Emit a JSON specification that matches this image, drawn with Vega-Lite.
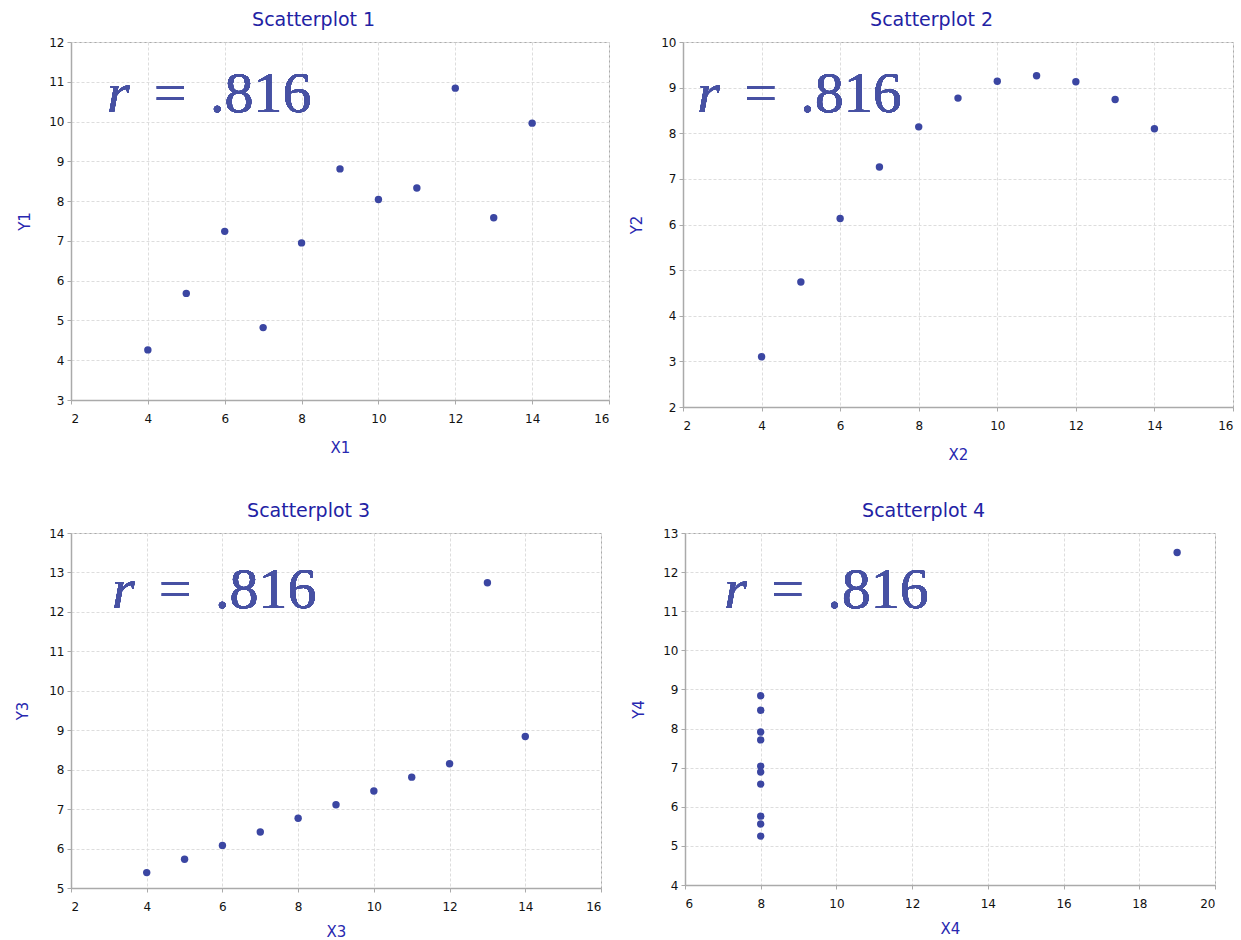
{
  "$schema": "https://vega.github.io/schema/vega-lite/v6.json",
  "background": "white",
  "padding": {"left": 15, "top": 10, "right": 5, "bottom": 5},
  "datasets": {
    "anscombe": [
      {"set": "I", "x": 10, "y": 8.04}, {"set": "I", "x": 8, "y": 6.95}, {"set": "I", "x": 13, "y": 7.58}, {"set": "I", "x": 9, "y": 8.81},
      {"set": "I", "x": 11, "y": 8.33}, {"set": "I", "x": 14, "y": 9.96}, {"set": "I", "x": 6, "y": 7.24}, {"set": "I", "x": 4, "y": 4.26},
      {"set": "I", "x": 12, "y": 10.84}, {"set": "I", "x": 7, "y": 4.82}, {"set": "I", "x": 5, "y": 5.68},
      {"set": "II", "x": 10, "y": 9.14}, {"set": "II", "x": 8, "y": 8.14}, {"set": "II", "x": 13, "y": 8.74}, {"set": "II", "x": 9, "y": 8.77},
      {"set": "II", "x": 11, "y": 9.26}, {"set": "II", "x": 14, "y": 8.10}, {"set": "II", "x": 6, "y": 6.13}, {"set": "II", "x": 4, "y": 3.10},
      {"set": "II", "x": 12, "y": 9.13}, {"set": "II", "x": 7, "y": 7.26}, {"set": "II", "x": 5, "y": 4.74},
      {"set": "III", "x": 10, "y": 7.46}, {"set": "III", "x": 8, "y": 6.77}, {"set": "III", "x": 13, "y": 12.74}, {"set": "III", "x": 9, "y": 7.11},
      {"set": "III", "x": 11, "y": 7.81}, {"set": "III", "x": 14, "y": 8.84}, {"set": "III", "x": 6, "y": 6.08}, {"set": "III", "x": 4, "y": 5.39},
      {"set": "III", "x": 12, "y": 8.15}, {"set": "III", "x": 7, "y": 6.42}, {"set": "III", "x": 5, "y": 5.73},
      {"set": "IV", "x": 8, "y": 6.58}, {"set": "IV", "x": 8, "y": 5.76}, {"set": "IV", "x": 8, "y": 7.71}, {"set": "IV", "x": 8, "y": 8.84},
      {"set": "IV", "x": 8, "y": 8.47}, {"set": "IV", "x": 8, "y": 7.04}, {"set": "IV", "x": 8, "y": 5.25}, {"set": "IV", "x": 19, "y": 12.50},
      {"set": "IV", "x": 8, "y": 5.56}, {"set": "IV", "x": 8, "y": 7.91}, {"set": "IV", "x": 8, "y": 6.89}
    ]
  },
  "config": {
    "view": {"stroke": "#aaaaaa", "strokeWidth": 1},
    "title": {"font": "DejaVu Sans", "fontSize": 19, "fontWeight": "normal", "color": "#2222a4", "offset": 6, "anchor": "middle", "frame": "bounds"},
    "axis": {
      "labelFont": "DejaVu Sans", "labelFontSize": 12, "labelColor": "#111111", "labelOverlap": false, "tickCount": 30,
      "titleFont": "DejaVu Sans", "titleFontSize": 15, "titleFontWeight": "normal", "titleColor": "#2828b0",
      "domainColor": "#aaaaaa", "domainWidth": 1.5, "tickColor": "#aaaaaa", "tickSize": 4,
      "gridColor": "#dddddd", "gridDash": [3, 2], "labelPadding": 3
    },
    "axisX": {"titlePadding": 16, "labelPadding": 9},
    "axisY": {"titlePadding": 16},
    "point": {"filled": true, "shape": "circle", "size": 55, "color": "#3b46a2", "opacity": 1},
    "text": {"font": "Liberation Serif", "fontSize": 58, "color": "#4751a3", "align": "left", "baseline": "alphabetic"}
  },
  "spacing": 38,
  "vconcat": [
    {
      "spacing": 19,
      "hconcat": [
        {
          "title": "Scatterplot 1",
          "width": 538, "height": 358,
          "data": {"name": "anscombe"},
          "transform": [{"filter": "datum.set === 'I'"}],
          "layer": [
            {
              "mark": "point",
              "encoding": {
                "x": {"field": "x", "type": "quantitative", "scale": {"domain": [2, 16], "nice": false, "zero": false}, "axis": {"title": "X1", "format": "d", "tickCount": 30, "values": [2, 4, 6, 8, 10, 12, 14, 16]}},
                "y": {"field": "y", "type": "quantitative", "scale": {"domain": [3, 12], "nice": false, "zero": false}, "axis": {"title": "Y1", "format": "d", "tickCount": 30, "values": [3, 4, 5, 6, 7, 8, 9, 10, 11, 12]}}
              }
            },
            {"mark": {"type": "text", "text": "r", "fontStyle": "italic"}, "encoding": {"x": {"datum": 2.94, "type": "quantitative"}, "y": {"datum": 10.25, "type": "quantitative"}}},
            {"mark": {"type": "text", "text": "=", "dx": 47}, "encoding": {"x": {"datum": 2.94, "type": "quantitative"}, "y": {"datum": 10.25, "type": "quantitative"}}},
            {"mark": {"type": "text", "text": ".816", "dx": 103}, "encoding": {"x": {"datum": 2.94, "type": "quantitative"}, "y": {"datum": 10.25, "type": "quantitative"}}}
          ]
        },
        {
          "title": "Scatterplot 2",
          "width": 550, "height": 365,
          "data": {"name": "anscombe"},
          "transform": [{"filter": "datum.set === 'II'"}],
          "layer": [
            {
              "mark": "point",
              "encoding": {
                "x": {"field": "x", "type": "quantitative", "scale": {"domain": [2, 16], "nice": false, "zero": false}, "axis": {"title": "X2", "format": "d", "tickCount": 30, "values": [2, 4, 6, 8, 10, 12, 14, 16]}},
                "y": {"field": "y", "type": "quantitative", "scale": {"domain": [2, 10], "nice": false, "zero": false}, "axis": {"title": "Y2", "format": "d", "tickCount": 30, "values": [2, 3, 4, 5, 6, 7, 8, 9, 10]}}
              }
            },
            {"mark": {"type": "text", "text": "r", "fontStyle": "italic"}, "encoding": {"x": {"datum": 2.36, "type": "quantitative"}, "y": {"datum": 8.47, "type": "quantitative"}}},
            {"mark": {"type": "text", "text": "=", "dx": 47}, "encoding": {"x": {"datum": 2.36, "type": "quantitative"}, "y": {"datum": 8.47, "type": "quantitative"}}},
            {"mark": {"type": "text", "text": ".816", "dx": 103}, "encoding": {"x": {"datum": 2.36, "type": "quantitative"}, "y": {"datum": 8.47, "type": "quantitative"}}}
          ]
        }
      ]
    },
    {
      "spacing": 29,
      "hconcat": [
        {
          "title": "Scatterplot 3",
          "width": 530, "height": 355,
          "data": {"name": "anscombe"},
          "transform": [{"filter": "datum.set === 'III'"}],
          "layer": [
            {
              "mark": "point",
              "encoding": {
                "x": {"field": "x", "type": "quantitative", "scale": {"domain": [2, 16], "nice": false, "zero": false}, "axis": {"title": "X3", "format": "d", "titlePadding": 12, "tickCount": 30, "values": [2, 4, 6, 8, 10, 12, 14, 16]}},
                "y": {"field": "y", "type": "quantitative", "scale": {"domain": [5, 14], "nice": false, "zero": false}, "axis": {"title": "Y3", "format": "d", "tickCount": 30, "titlePadding": 18, "values": [5, 6, 7, 8, 9, 10, 11, 12, 13, 14]}}
              }
            },
            {"mark": {"type": "text", "text": "r", "fontStyle": "italic"}, "encoding": {"x": {"datum": 3.08, "type": "quantitative"}, "y": {"datum": 12.1, "type": "quantitative"}}},
            {"mark": {"type": "text", "text": "=", "dx": 47}, "encoding": {"x": {"datum": 3.08, "type": "quantitative"}, "y": {"datum": 12.1, "type": "quantitative"}}},
            {"mark": {"type": "text", "text": ".816", "dx": 103}, "encoding": {"x": {"datum": 3.08, "type": "quantitative"}, "y": {"datum": 12.1, "type": "quantitative"}}}
          ]
        },
        {
          "title": "Scatterplot 4",
          "width": 530, "height": 352,
          "data": {"name": "anscombe"},
          "transform": [{"filter": "datum.set === 'IV'"}],
          "layer": [
            {
              "mark": "point",
              "encoding": {
                "x": {"field": "x", "type": "quantitative", "scale": {"domain": [6, 20], "nice": false, "zero": false}, "axis": {"title": "X4", "format": "d", "titlePadding": 12, "tickCount": 30, "values": [6, 8, 10, 12, 14, 16, 18, 20]}},
                "y": {"field": "y", "type": "quantitative", "scale": {"domain": [4, 13], "nice": false, "zero": false}, "axis": {"title": "Y4", "format": "d", "tickCount": 30, "values": [4, 5, 6, 7, 8, 9, 10, 11, 12, 13]}}
              }
            },
            {"mark": {"type": "text", "text": "r", "fontStyle": "italic"}, "encoding": {"x": {"datum": 7.04, "type": "quantitative"}, "y": {"datum": 11.08, "type": "quantitative"}}},
            {"mark": {"type": "text", "text": "=", "dx": 47}, "encoding": {"x": {"datum": 7.04, "type": "quantitative"}, "y": {"datum": 11.08, "type": "quantitative"}}},
            {"mark": {"type": "text", "text": ".816", "dx": 103}, "encoding": {"x": {"datum": 7.04, "type": "quantitative"}, "y": {"datum": 11.08, "type": "quantitative"}}}
          ]
        }
      ]
    }
  ]
}
